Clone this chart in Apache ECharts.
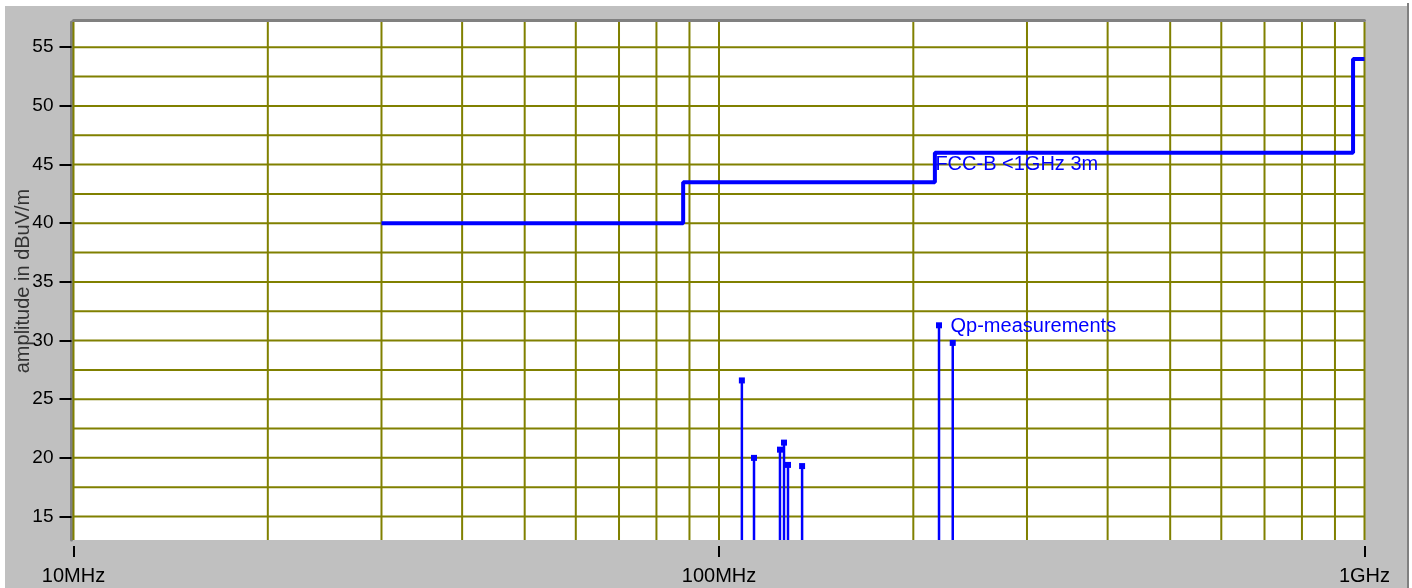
<!DOCTYPE html>
<html>
<head>
<meta charset="utf-8">
<script src="https://cdn.jsdelivr.net/npm/echarts@6/dist/echarts.min.js"></script>
<style>
html,body{margin:0;padding:0;background:#ffffff;}
#bg{position:absolute;left:5px;top:6px;width:1402px;height:582px;background:#c0c0c0;}
#edge{position:absolute;left:1407px;top:3px;width:2px;height:585px;background:#808080;}
#c{position:absolute;left:0;top:0;width:1412px;height:588px;}
</style>
</head>
<body>
<div id="bg"></div>
<div id="edge"></div>
<div id="c"></div>
<script>
// ---- data (MHz / dBuV/m) ----
const limitFreq  = [30, 88, 88, 216, 216, 960, 960, 1000];
const limitLevel = [40, 40, 43.5, 43.5, 46, 46, 54, 54];
const measFreq   = [108.5, 113.3, 124.3, 126.1, 127.9, 134.5, 219.2, 230.2];
const measLevel  = [26.6, 20.0, 20.7, 21.3, 19.4, 19.3, 31.3, 29.8];
const yTicks     = [15, 20, 25, 30, 35, 40, 45, 50, 55];
const yGrid      = [15, 17.5, 20, 22.5, 25, 27.5, 30, 32.5, 35, 37.5, 40, 42.5, 45, 47.5, 50, 52.5, 55];
const xGrid      = [10, 20, 30, 40, 50, 60, 70, 80, 90, 100, 200, 300, 400, 500, 600, 700, 800, 900, 1000];
const xTickValues = [10, 100, 1000];
const xTickLabels = ['10MHz', '100MHz', '1GHz'];
const limitName = 'FCC-B <1GHz 3m';
const measName  = 'Qp-measurements';
const yName     = 'amplitude in dBuV/m';

const Y_MIN = 13, Y_MAX = 57.15, X_MIN = 10, X_MAX = 1000;
const FONT = "'Liberation Sans', Arial, Helvetica, sans-serif";
const OLIVE = '#808000';
const BLUE = '#0000ff';

const chart = echarts.init(document.getElementById('c'), null, {renderer: 'canvas'});

function xLabel(v) {
  let best = 0, bd = Infinity;
  xTickValues.forEach((t, i) => {
    const d = Math.abs(Math.log10(v) - Math.log10(t));
    if (d < bd) { bd = d; best = i; }
  });
  return bd < 0.01 ? xTickLabels[best] : '';
}

const option = {
  animation: false,
  grid: {left: 73.5, right: 47.5, top: 22, bottom: 48, show: true, backgroundColor: '#ffffff',
    borderWidth: 0, containLabel: false, outerBoundsMode: 'none'},
  xAxis: [
    {
      type: 'log', logBase: 10, min: X_MIN, max: X_MAX, position: 'bottom', offset: 6,
      axisLine: {show: false},
      axisTick: {show: true, length: 11, lineStyle: {color: '#000', width: 2}},
      axisLabel: {show: true, margin: 20, fontSize: 20, color: '#000', fontFamily: FONT,
        showMinLabel: true, showMaxLabel: true, formatter: xLabel},
      splitLine: {show: false}, minorTick: {show: false}, minorSplitLine: {show: false}
    },
    {
      type: 'log', logBase: 10, min: X_MIN, max: X_MAX, position: 'top', offset: 1.5,
      axisLine: {show: true, lineStyle: {color: '#808080', width: 3}},
      axisTick: {show: false}, axisLabel: {show: false}, splitLine: {show: false}
    }
  ],
  yAxis: [{
    type: 'value', min: Y_MIN, max: Y_MAX, position: 'left', offset: 2,
    axisLine: {show: true, lineStyle: {color: '#808080', width: 3}},
    axisTick: {show: true, length: 12, customValues: yTicks, lineStyle: {color: '#000', width: 2}},
    axisLabel: {show: true, customValues: yTicks, margin: 18, fontSize: 19, color: '#000', fontFamily: FONT},
    splitLine: {show: false},
    name: yName, nameLocation: 'middle', nameGap: 38, nameMoveOverlap: false,
    nameTextStyle: {fontSize: 20, color: '#333', fontFamily: FONT}
  }],
  series: [
    {
      type: 'custom', name: 'vgrid', coordinateSystem: 'cartesian2d', xAxisIndex: 0, yAxisIndex: 0,
      silent: true, z: 1, encode: {x: 0, y: 1},
      data: xGrid.map(f => [f, Y_MIN]),
      renderItem: (params, api) => {
        const a = api.coord([api.value(0), Y_MIN]);
        const b = api.coord([api.value(0), Y_MAX]);
        return {type: 'line', shape: {x1: a[0], y1: a[1], x2: b[0], y2: b[1]},
          style: {stroke: OLIVE, lineWidth: 2}};
      }
    },
    {
      type: 'custom', name: 'hgrid', coordinateSystem: 'cartesian2d', xAxisIndex: 0, yAxisIndex: 0,
      silent: true, z: 1, encode: {x: 0, y: 1},
      data: yGrid.map(v => [X_MIN, v]),
      renderItem: (params, api) => {
        const a = api.coord([X_MIN, api.value(1)]);
        const b = api.coord([X_MAX, api.value(1)]);
        return {type: 'line', shape: {x1: a[0], y1: a[1], x2: b[0], y2: b[1]},
          style: {stroke: OLIVE, lineWidth: 2}};
      }
    },
    {
      type: 'line', name: limitName, xAxisIndex: 0, yAxisIndex: 0, z: 4,
      data: limitFreq.map((f, i) => [f, limitLevel[i]]),
      showSymbol: false, silent: true,
      lineStyle: {color: BLUE, width: 4},
      markPoint: {
        silent: true, symbol: 'circle', symbolSize: 1,
        itemStyle: {color: 'rgba(0,0,0,0)'},
        data: [
          {coord: [limitFreq[4], limitLevel[4]],
           label: {show: true, position: 'right', distance: 0, offset: [0, 12], formatter: limitName,
             color: BLUE, fontSize: 20, fontFamily: FONT}},
          {coord: [measFreq[6], measLevel[6]],
           label: {show: true, position: 'right', distance: 11, offset: [0, 1], formatter: measName,
             color: BLUE, fontSize: 20, fontFamily: FONT}}
        ]
      }
    },
    {
      type: 'custom', name: measName, coordinateSystem: 'cartesian2d', xAxisIndex: 0, yAxisIndex: 0,
      silent: true, z: 5, encode: {x: 0, y: 1},
      data: measFreq.map((f, i) => [f, measLevel[i]]),
      renderItem: (params, api) => {
        const top = api.coord([api.value(0), api.value(1)]);
        const bot = api.coord([api.value(0), Y_MIN]);
        return {type: 'group', children: [
          {type: 'line', shape: {x1: top[0], y1: top[1], x2: bot[0], y2: bot[1]},
            style: {stroke: BLUE, lineWidth: 2.5}},
          {type: 'rect', shape: {x: top[0] - 3, y: top[1] - 3, width: 6, height: 6},
            style: {fill: BLUE}}
        ]};
      }
    }
  ]
};
chart.setOption(option);
</script>
</body>
</html>
